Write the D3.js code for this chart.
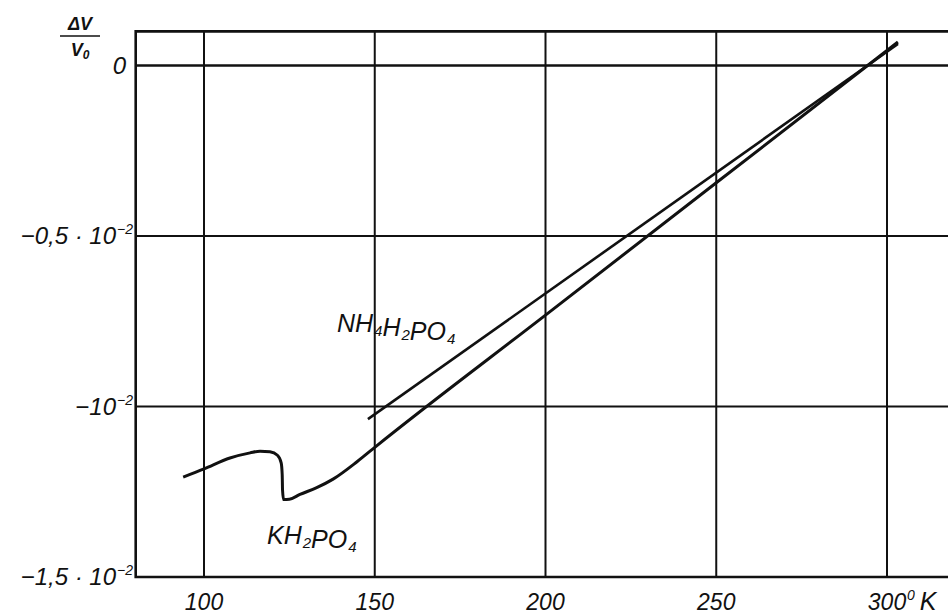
<!DOCTYPE html>
<html>
<head>
<meta charset="utf-8">
<script src="https://cdn.jsdelivr.net/npm/d3@7"></script>
<style>
  body { margin: 0; background: #fff; }
  svg text { font-family: "Liberation Sans", Arial, sans-serif; font-style: italic; fill: #111; }
</style>
</head>
<body>
<div id="chart"></div>
<script>
// values of dV/V0 are in units of 10^-2
const xTicks = [100, 150, 200, 250, 300];
const yTicks = [0, -0.5, -1, -1.5];
const yTickLabels = [["0", ""], ["\u22120,5 \u00b7 10", "\u22122"], ["\u221210", "\u22122"], ["\u22121,5 \u00b7 10", "\u22122"]];

const khTemp = [93.9, 100, 107.6, 113.5, 116.4, 119.3, 121.5, 122.6, 122.9, 123.0, 123.3, 125.0, 128.1, 133.0, 137.8, 144.8, 150.1, 200, 250, 303.2];
const khDv = [-1.207, -1.183, -1.151, -1.136, -1.131, -1.133, -1.143, -1.165, -1.20, -1.245, -1.273, -1.272, -1.258, -1.238, -1.213, -1.162, -1.119, -0.732, -0.344, 0.069];

const nhTemp = [148.0, 303.2];
const nhDv = [-1.037, 0.063];

const width = 948, height = 615;

const svg = d3.select("#chart").append("svg")
  .attr("width", width)
  .attr("height", height);

// scales
const x = d3.scaleLinear().domain([100, 300]).range([204, 887]);
const y = d3.scaleLinear().domain([0, -1.5]).range([65.5, 577]);

const xLeft = 80, yTop = 0.1;

// grid
const grid = svg.append("g").attr("stroke", "#111").attr("fill", "none");

grid.selectAll(".vgrid")
  .data(xTicks)
  .enter().append("line")
  .attr("x1", d => x(d)).attr("x2", d => x(d))
  .attr("y1", y(yTop)).attr("y2", y(-1.5))
  .attr("stroke-width", 2);

grid.selectAll(".hgrid")
  .data(yTicks.slice(0, 3))
  .enter().append("line")
  .attr("x1", x(xLeft)).attr("x2", width)
  .attr("y1", d => y(d)).attr("y2", d => y(d))
  .attr("stroke-width", d => d === 0 ? 2.6 : 2);

// frame: top, left, bottom (right edge runs off the page)
grid.append("path")
  .attr("d", `M${width},${y(yTop)}H${x(xLeft)}V${y(-1.5)}H${width}`)
  .attr("stroke-width", 2.6);

// x tick labels
svg.selectAll(".xlab")
  .data(xTicks)
  .enter().append("text")
  .attr("x", d => x(d))
  .attr("y", 610)
  .attr("text-anchor", "middle")
  .style("font-size", "23px")
  .text(d => d);

// unit after 300
const unit = svg.append("text")
  .attr("x", x(300) + 20)
  .attr("y", 610)
  .style("font-size", "23px");
unit.append("tspan").attr("dy", -10).style("font-size", "14px").text("0");
unit.append("tspan").attr("dy", 10).attr("dx", 5).style("font-size", "25px").text("K");

// y tick labels
const ylab = svg.selectAll(".ylab")
  .data(yTicks)
  .enter().append("text")
  .attr("x", (d, i) => i === 0 ? 126 : 133)
  .attr("y", d => y(d) + 8)
  .attr("text-anchor", "end")
  .style("font-size", "24px");
ylab.append("tspan").text((d, i) => yTickLabels[i][0]);
ylab.append("tspan")
  .attr("dy", -10)
  .attr("dx", 1)
  .style("font-size", "14px")
  .text((d, i) => yTickLabels[i][1]);

// y axis title: dV / V0
const title = svg.append("g").attr("transform", "translate(80,0)");
title.append("text")
  .attr("y", 30).attr("text-anchor", "middle")
  .style("font-size", "18px").style("font-weight", "bold")
  .text("\u0394V");
title.append("line")
  .attr("x1", -20).attr("x2", 20)
  .attr("y1", 36).attr("y2", 36)
  .attr("stroke", "#111").attr("stroke-width", 1.6);
const den = title.append("text")
  .attr("y", 56).attr("text-anchor", "middle")
  .style("font-size", "18px").style("font-weight", "bold");
den.append("tspan").text("V");
den.append("tspan").attr("dy", 3).style("font-size", "12px").text("0");

// curves
const line = d3.line()
  .x(d => x(d[0]))
  .y(d => y(d[1]));

svg.append("path")
  .datum(khTemp.map((t, i) => [t, khDv[i]]))
  .attr("d", line.curve(d3.curveMonotoneX))
  .attr("fill", "none")
  .attr("stroke", "#111")
  .attr("stroke-width", 3);

svg.append("path")
  .datum(nhTemp.map((t, i) => [t, nhDv[i]]))
  .attr("d", line.curve(d3.curveLinear))
  .attr("fill", "none")
  .attr("stroke", "#111")
  .attr("stroke-width", 2.6);

// compound labels with subscripts
function formula(parts, px, py) {
  const t = svg.append("text")
    .attr("x", px).attr("y", py)
    .style("font-size", "25px");
  parts.forEach(p => {
    if (p.sub) {
      t.append("tspan").attr("dy", 4).attr("dx", 1).style("font-size", "15px").text(p.s);
      t.append("tspan").attr("dy", -4).attr("dx", 2).text("");
    } else {
      t.append("tspan").text(p.s);
    }
  });
}

formula([{s: "NH"}, {s: "4", sub: true}, {s: "H"}, {s: "2", sub: true}, {s: "PO"}, {s: "4", sub: true}], 337, 332);
formula([{s: "KH"}, {s: "2", sub: true}, {s: "PO"}, {s: "4", sub: true}], 267, 544);
</script>
</body>
</html>
